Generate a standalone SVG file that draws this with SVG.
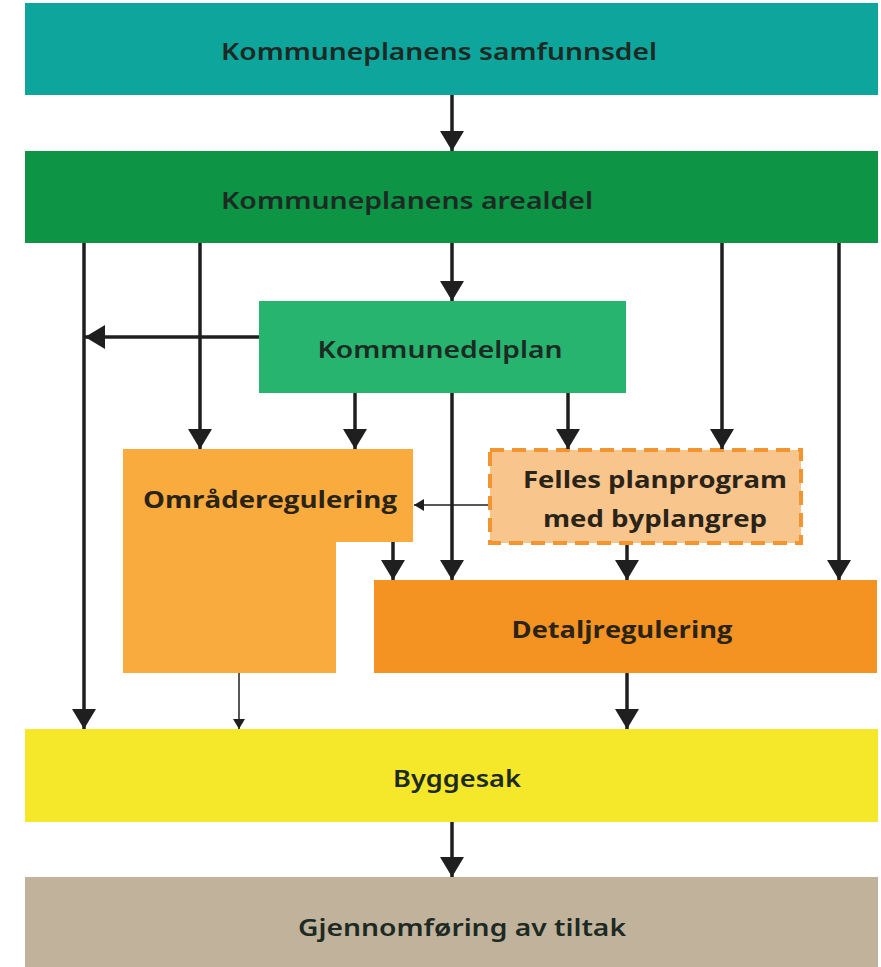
<svg xmlns="http://www.w3.org/2000/svg" width="881" height="967" viewBox="0 0 881 967">
<style>
.t{font-family:"Noto Sans","Open Sans","Liberation Sans",sans-serif;font-weight:600;font-size:24px;fill:#1d2a24;text-anchor:middle}
.t2{font-family:"Open Sans","Noto Sans","Liberation Sans",sans-serif;font-weight:700;font-size:24px;fill:#2a2318;text-anchor:middle}
.c{fill:none;stroke:#1f1f1f;stroke-width:3.5}
.cthin{fill:none;stroke:#1f1f1f;stroke-width:1.5}
</style>
<defs>
<marker id="ah" viewBox="0 0 20 24" refX="20" refY="12" markerWidth="20" markerHeight="24" markerUnits="userSpaceOnUse" orient="auto">
<path d="M0,0 L20,12 L0,24 z" fill="#1f1f1f"/>
</marker>
<marker id="ahs" viewBox="0 0 10 12" refX="10" refY="6" markerWidth="10" markerHeight="12" markerUnits="userSpaceOnUse" orient="auto">
<path d="M0,0 L10,6 L0,12 z" fill="#1f1f1f"/>
</marker>
</defs>
<rect width="881" height="967" fill="#ffffff"/>
<g id="samfunnsdel">
<rect x="25" y="3" width="853" height="92" fill="#0ea59c"/>
<text class="t" x="439" y="60" textLength="436" lengthAdjust="spacingAndGlyphs">Kommuneplanens samfunnsdel</text>
</g>
<g id="arealdel">
<rect x="25" y="151" width="853" height="92" fill="#0d9445"/>
<text class="t" x="407" y="209" textLength="372" lengthAdjust="spacingAndGlyphs">Kommuneplanens arealdel</text>
</g>
<g id="kommunedelplan">
<rect x="259" y="301" width="367" height="92" fill="#26b46f"/>
<text class="t" x="440" y="358" textLength="245" lengthAdjust="spacingAndGlyphs">Kommunedelplan</text>
</g>
<g id="omraderegulering">
<path d="M123,449 H413 V542 H336 V673 H123 Z" fill="#f9ab3d"/>
<text class="t2" x="270" y="508" textLength="254" lengthAdjust="spacingAndGlyphs">Områderegulering</text>
</g>
<g id="felles">
<rect x="490" y="450" width="311" height="93" fill="#f8c58c" stroke="#f29530" stroke-width="4" stroke-dasharray="14,8"/>
<text class="t2" x="655" y="488" textLength="264" lengthAdjust="spacingAndGlyphs">Felles planprogram</text>
<text class="t2" x="655" y="527" textLength="224" lengthAdjust="spacingAndGlyphs">med byplangrep</text>
</g>
<g id="detaljregulering">
<rect x="374" y="580" width="503" height="93" fill="#f49321"/>
<text class="t2" x="622" y="638" textLength="221" lengthAdjust="spacingAndGlyphs">Detaljregulering</text>
</g>
<g id="byggesak">
<rect x="25" y="729" width="853" height="93" fill="#f5e82a"/>
<text class="t" x="457" y="787" textLength="128" lengthAdjust="spacingAndGlyphs">Byggesak</text>
</g>
<g id="gjennomforing">
<rect x="25" y="877" width="853" height="90" fill="#c1b39b"/>
<text class="t" x="462" y="936" textLength="328" lengthAdjust="spacingAndGlyphs">Gjennomføring av tiltak</text>
</g>
<g id="connectors">
<line class="c" x1="452" y1="95" x2="452" y2="151" marker-end="url(#ah)"/>
<line class="c" x1="452" y1="243" x2="452" y2="301" marker-end="url(#ah)"/>
<line class="c" x1="84" y1="243" x2="84" y2="729" marker-end="url(#ah)"/>
<line class="c" x1="200" y1="243" x2="200" y2="449" marker-end="url(#ah)"/>
<line class="c" x1="722" y1="243" x2="722" y2="449" marker-end="url(#ah)"/>
<line class="c" x1="839" y1="243" x2="839" y2="580" marker-end="url(#ah)"/>
<line class="c" x1="259" y1="337" x2="85" y2="337" marker-end="url(#ah)"/>
<line class="c" x1="355" y1="393" x2="355" y2="449" marker-end="url(#ah)"/>
<line class="c" x1="452" y1="393" x2="452" y2="580" marker-end="url(#ah)"/>
<line class="c" x1="568" y1="393" x2="568" y2="449" marker-end="url(#ah)"/>
<line class="cthin" x1="488" y1="505" x2="414" y2="505" marker-end="url(#ahs)"/>
<line class="c" x1="393" y1="542" x2="393" y2="580" marker-end="url(#ah)"/>
<line class="c" x1="627" y1="545" x2="627" y2="580" marker-end="url(#ah)"/>
<line class="cthin" x1="239" y1="673" x2="239" y2="729" marker-end="url(#ahs)"/>
<line class="c" x1="627" y1="673" x2="627" y2="729" marker-end="url(#ah)"/>
<line class="c" x1="452" y1="822" x2="452" y2="877" marker-end="url(#ah)"/>
</g>
</svg>
